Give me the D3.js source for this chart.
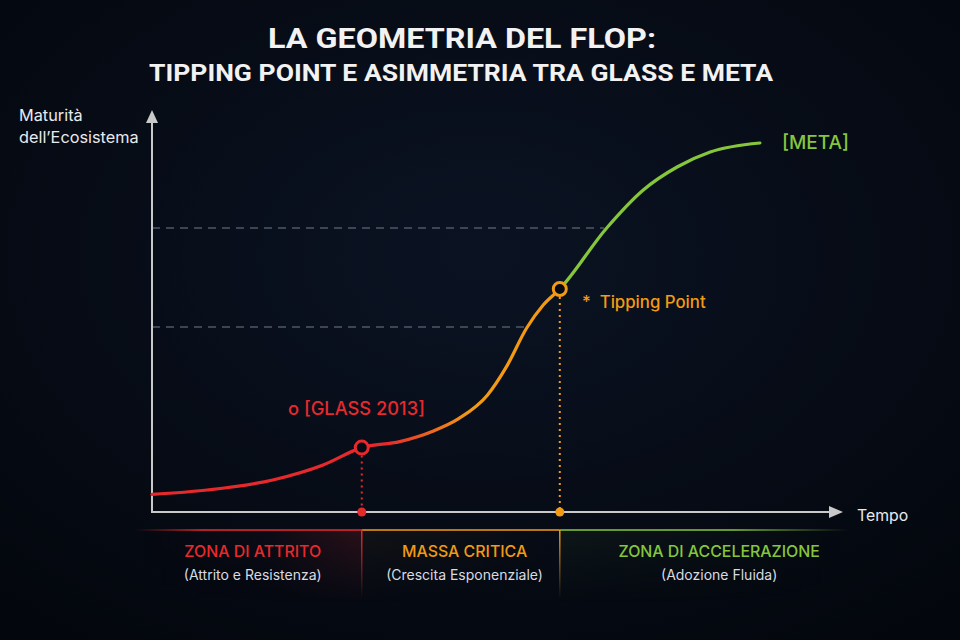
<!DOCTYPE html>
<html><head><meta charset="utf-8">
<script src="https://cdn.jsdelivr.net/npm/d3@7"></script>
<style>html,body{margin:0;padding:0;background:#050913;}svg{display:block;}</style>
</head><body>
<svg id="c" width="960" height="640"></svg>
<script>
// ---- data ----
const titleLines = ["LA GEOMETRIA DEL FLOP:", "TIPPING POINT E ASIMMETRIA TRA GLASS E META"];
const yAxisLabel = ["Maturità", "dell\u2019Ecosistema"];
const xAxisLabel = "Tempo";
const timeValues     = [0, 8, 17.5, 24.8, 30.4, 35.9, 40.7, 44.5, 48.6, 51.4, 54.3, 56.7, 59.1, 65.9, 71.2, 76.1, 80.9, 88.1];
const maturityValues = [4.4, 5.5, 8, 11.75, 16.1, 17.6, 20.2, 23.4, 29.2, 36.4, 46, 51.75, 55.75, 71, 80.5, 86.25, 90, 92.25];
const markerNames = ["o [GLASS 2013]", "* Tipping Point"];
const markerTime = [30.4, 59.1];
const markerMaturity = [16.1, 55.75];
const guideLevels = [71, 46.25];
const guideEnds = [65.5, 54];
const endLabel = "[META]";
const zoneTitles = ["ZONA DI ATTRITO", "MASSA CRITICA", "ZONA DI ACCELERAZIONE"];
const zoneSubtitles = ["(Attrito e Resistenza)", "(Crescita Esponenziale)", "(Adozione Fluida)"];
const zoneStart = [-2.5, 30.4, 59.1];
const zoneEnd = [30.4, 59.1, 101];
const zoneLabelTime = [14.6, 45.3, 82.2];

// ---- setup ----
const W = 960, H = 640;
const RED = "#e8292c", ORANGE = "#f39a14", GREEN = "#86c63c";
const zoneColors = [RED, ORANGE, GREEN];
const svg = d3.select("#c");
const x = d3.scaleLinear().domain([0, 100]).range([152, 842]);
const y = d3.scaleLinear().domain([0, 100]).range([512, 112]);
const font = "Inter, 'Noto Sans', sans-serif";
const tfont = "Roboto, 'Liberation Sans', sans-serif";

const defs = svg.append("defs");
const bg = defs.append("radialGradient").attr("id", "bg").attr("cx", "50%").attr("cy", "40%").attr("r", "75%");
bg.append("stop").attr("offset", "0%").attr("stop-color", "#0b1323");
bg.append("stop").attr("offset", "100%").attr("stop-color", "#03060c");
svg.append("rect").attr("width", W).attr("height", H).attr("fill", "url(#bg)");

// curve gradient
const cg = defs.append("linearGradient").attr("id", "cg").attr("gradientUnits", "userSpaceOnUse")
  .attr("x1", x(0)).attr("x2", x(90)).attr("y1", 0).attr("y2", 0);
const xr = v => v / 90;
[[0, RED], [34, RED], [46, ORANGE], [59.0, ORANGE], [59.6, GREEN], [90, GREEN]].forEach(s =>
  cg.append("stop").attr("offset", xr(s[0])).attr("stop-color", s[1]));

// vertical fade mask for zone glows
const vm = defs.append("linearGradient").attr("id", "vfade").attr("x1", 0).attr("x2", 0).attr("y1", 0).attr("y2", 1);
vm.append("stop").attr("offset", 0).attr("stop-color", "#fff").attr("stop-opacity", 1);
vm.append("stop").attr("offset", 1).attr("stop-color", "#fff").attr("stop-opacity", 0);
const bandY = 530;
defs.append("mask").attr("id", "bandMask").attr("maskUnits", "userSpaceOnUse")
  .attr("x", 0).attr("y", bandY).attr("width", W).attr("height", 80)
  .append("rect").attr("x", 0).attr("y", bandY).attr("width", W).attr("height", 75).attr("fill", "url(#vfade)");

zoneColors.forEach((c, i) => {
  const g = defs.append("linearGradient").attr("id", "zg" + i).attr("x1", 0).attr("x2", 1);
  const op = [0.16, 0.05, 0.06][i];
  if (i === 0) {
    g.append("stop").attr("offset", 0).attr("stop-color", c).attr("stop-opacity", 0);
    g.append("stop").attr("offset", 0.6).attr("stop-color", c).attr("stop-opacity", 0.03);
    g.append("stop").attr("offset", 1).attr("stop-color", c).attr("stop-opacity", op);
  } else {
    g.append("stop").attr("offset", 0).attr("stop-color", c).attr("stop-opacity", op);
    g.append("stop").attr("offset", 1).attr("stop-color", c).attr("stop-opacity", 0);
  }
  const lg = defs.append("linearGradient").attr("id", "zl" + i).attr("x1", 0).attr("x2", 1);
  lg.append("stop").attr("offset", 0).attr("stop-color", c).attr("stop-opacity", i === 0 ? 0 : 1);
  lg.append("stop").attr("offset", i === 0 ? 0.3 : 0.6).attr("stop-color", c).attr("stop-opacity", 1);
  lg.append("stop").attr("offset", 1).attr("stop-color", c).attr("stop-opacity", i === 2 ? 0 : 1);
  const vg = defs.append("linearGradient").attr("id", "zv" + i).attr("x1", 0).attr("x2", 0).attr("y1", 0).attr("y2", 1);
  vg.append("stop").attr("offset", 0).attr("stop-color", c).attr("stop-opacity", 1);
  vg.append("stop").attr("offset", 1).attr("stop-color", c).attr("stop-opacity", 0);
});
const glowG = svg.append("g").attr("mask", "url(#bandMask)");
zoneStart.forEach((s, i) => {
  const x0 = x(s), x1 = x(zoneEnd[i]);
  glowG.append("rect").attr("x", x0).attr("y", bandY).attr("width", x1 - x0).attr("height", 75).attr("fill", "url(#zg" + i + ")");
  svg.append("rect").attr("x", x0).attr("y", bandY - 0.75).attr("width", x1 - x0).attr("height", 1.5).attr("fill", "url(#zl" + i + ")");
  const cx = x(zoneLabelTime[i]);
  svg.append("text").attr("x", cx).attr("y", 557).attr("text-anchor", "middle")
    .attr("font-family", font).attr("font-weight", 500).attr("font-size", 15.9).attr("fill", zoneColors[i]).text(zoneTitles[i]);
  svg.append("text").attr("x", cx).attr("y", 580).attr("text-anchor", "middle")
    .attr("font-family", font).attr("font-size", 14).attr("fill", "#d8dbe0").text(zoneSubtitles[i]);
});
// dividers
markerTime.forEach((t, i) => {
  svg.append("rect").attr("x", x(t) - 0.75).attr("y", bandY).attr("width", 1.5).attr("height", 68).attr("fill", "url(#zv" + i + ")");
});

// guide dashed lines
guideLevels.forEach((lv, i) => {
  svg.append("line").attr("x1", x(0)).attr("x2", x(guideEnds[i])).attr("y1", y(lv)).attr("y2", y(lv))
    .attr("stroke", "#4d5868").attr("stroke-width", 1.3).attr("stroke-dasharray", "8,6");
});

// axes
const axisColor = "#c9c9c9";
svg.append("line").attr("x1", x(0)).attr("x2", x(0)).attr("y1", y(0) + 1).attr("y2", 120).attr("stroke", axisColor).attr("stroke-width", 2);
svg.append("path").attr("d", `M${x(0)},110 L${x(0) - 6},123 L${x(0) + 6},123 Z`).attr("fill", axisColor);
svg.append("line").attr("x1", x(0) - 1).attr("x2", 832).attr("y1", y(0)).attr("y2", y(0)).attr("stroke", axisColor).attr("stroke-width", 2);
svg.append("path").attr("d", `M843,${y(0)} L829,${y(0) - 6} L829,${y(0) + 6} Z`).attr("fill", axisColor);

svg.append("text").attr("x", 857).attr("y", 521).attr("font-family", font).attr("font-size", 15.8).attr("fill", "#e8eaee").text(xAxisLabel);
yAxisLabel.forEach((t, i) => svg.append("text").attr("x", 19).attr("y", 121 + i * 21.5)
  .attr("font-family", font).attr("font-size", 16.3).attr("fill", "#e8eaee").text(t));

// dotted drop lines
markerTime.forEach((t, i) => {
  svg.append("line").attr("x1", x(t)).attr("x2", x(t)).attr("y1", y(markerMaturity[i]) + 8).attr("y2", y(0) - 4)
    .attr("stroke", zoneColors[i]).attr("stroke-width", 2).attr("stroke-dasharray", "2,4");
  svg.append("circle").attr("cx", x(t)).attr("cy", y(0)).attr("r", 4.5).attr("fill", zoneColors[i]);
});

// curve
const pts = timeValues.map((t, i) => [x(t), y(maturityValues[i])]);
svg.append("path").attr("d", d3.line().curve(d3.curveMonotoneX)(pts))
  .attr("fill", "none").attr("stroke", "url(#cg)").attr("stroke-width", 3.2).attr("stroke-linecap", "round");

// markers
markerTime.forEach((t, i) => {
  svg.append("circle").attr("cx", x(t)).attr("cy", y(markerMaturity[i])).attr("r", 6.5)
    .attr("fill", "#060a14").attr("stroke", zoneColors[i]).attr("stroke-width", 3);
});
svg.append("text").attr("x", 288).attr("y", 415).attr("font-family", font).attr("font-weight", 500)
  .attr("font-size", 18.3).attr("fill", RED).text(markerNames[0]);
svg.append("text").attr("x", 582).attr("y", 308).attr("font-family", font).attr("font-weight", 500)
  .attr("font-size", 16.8).attr("fill", ORANGE).attr("xml:space", "preserve").text(markerNames[1].replace("* ", "*  "));
svg.append("text").attr("x", 782).attr("y", 149).attr("font-family", font).attr("font-weight", 500)
  .attr("font-size", 19).attr("fill", GREEN).text(endLabel);

// title
svg.append("text").attr("x", 462).attr("y", 48).attr("text-anchor", "middle").attr("font-family", tfont)
  .attr("font-weight", 700).attr("font-size", 28).attr("fill", "#f2f2f2")
  .attr("textLength", 388).attr("lengthAdjust", "spacingAndGlyphs").text(titleLines[0]);
svg.append("text").attr("x", 461).attr("y", 81).attr("text-anchor", "middle").attr("font-family", tfont)
  .attr("font-weight", 700).attr("font-size", 23).attr("fill", "#f2f2f2")
  .attr("textLength", 624).attr("lengthAdjust", "spacingAndGlyphs").text(titleLines[1]);
</script>
</body></html>
